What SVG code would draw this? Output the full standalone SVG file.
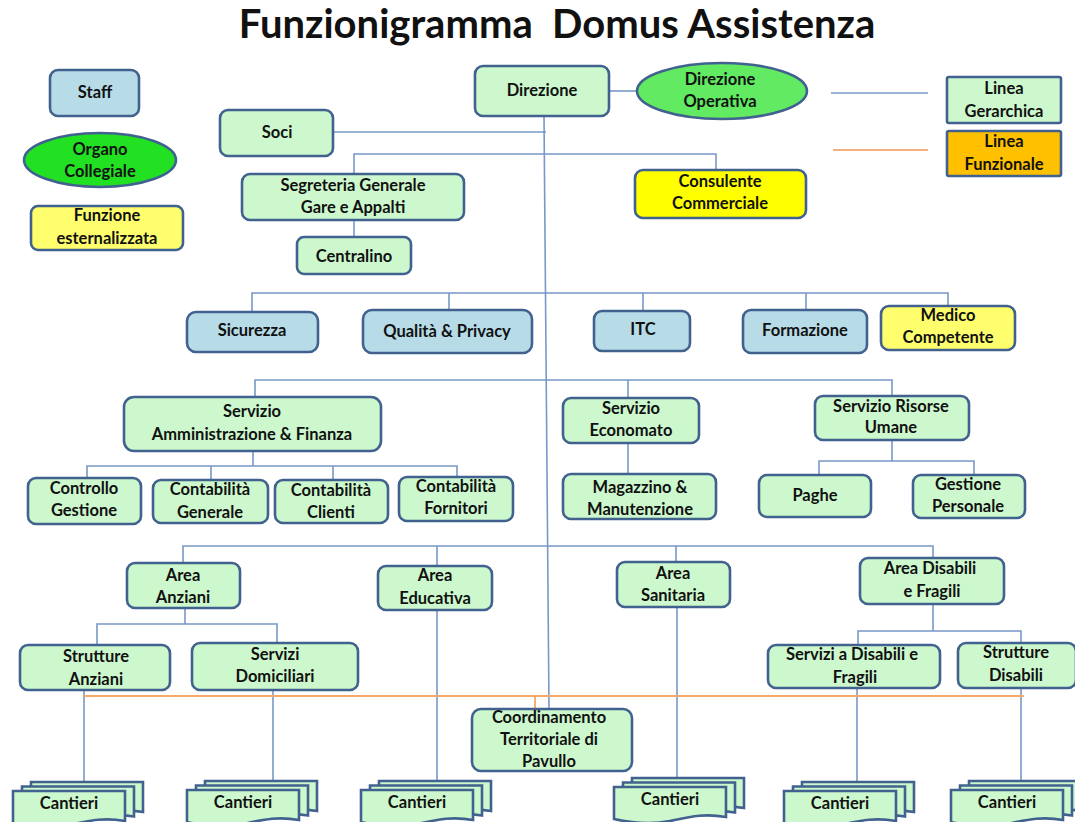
<svg xmlns="http://www.w3.org/2000/svg" width="1075" height="822" viewBox="0 0 1075 822">
<defs>
<style>
text{font-family:Lato,"Liberation Sans",sans-serif;font-weight:bold;font-size:16.5px;fill:#111;text-anchor:middle}
.t{font-size:40px}
.n{fill:#cdf8cd;stroke:#41628f;stroke-width:2.6}
.s{fill:#b7dce8;stroke:#41628f;stroke-width:2.6}
.y{fill:#ffff6e;stroke:#41628f;stroke-width:2.6}
.yy{fill:#ffff00;stroke:#41628f;stroke-width:2.6}
.o{fill:#ffc000;stroke:#41628f;stroke-width:2.6}
.c{fill:none;stroke:#7898c8;stroke-width:1.6}
.f{fill:none;stroke:#f5a868;stroke-width:1.8}
</style>
<path id="doc" d="M0,0 H112 V30 C90,26 75,30 56,34 C37,38 18,36 0,32 Z"/>
<g id="cant">
<use href="#doc" x="18" y="-9" class="n"/>
<use href="#doc" x="9" y="-4.5" class="n"/>
<use href="#doc" class="n"/>
</g>
</defs>
<rect width="1075" height="822" fill="#fff"/>
<text class="t" x="557" y="38" xml:space="preserve">Funzionigramma  Domus Assistenza</text>

<g id="connectors">
<path class="c" d="M544,116 L549,709"/>
<path class="c" d="M609,91 H637"/>
<path class="c" d="M333,132 H546"/>
<path class="c" d="M354,174 V154 H716 V170"/>
<path class="c" d="M354,220 V237"/>
<path class="c" d="M252,312 V293 H948 V306 M449,293 V310 M643,293 V311 M806,293 V310"/>
<path class="c" d="M255,397 V380 H892 V396 M628,380 V398"/>
<path class="c" d="M628,443 V474"/>
<path class="c" d="M892,440 V461 M819,475 V461 H974 V475"/>
<path class="c" d="M253,451 V466 M87,478 V466 H457 V477 M211,466 V480 M333,466 V480"/>
<path class="c" d="M183,563 V546 H933 V558 M437,546 V566 M676,546 V562"/>
<path class="c" d="M185,608 V624 M97,645 V624 H277 V643"/>
<path class="c" d="M933,604 V631 M858,645 V631 H1021 V643"/>
<path class="c" d="M84,690 V782 M273,690 V780 M437,610 V780 M677,607 V778 M857,688 V782 M1021,688 V780"/>
<path class="f" d="M84,696 H1024 M535,696 V709"/>
</g>

<g id="staff"><rect class="s" x="50" y="70" width="89" height="46" rx="8"/><text x="95" y="98">Staff</text></g>
<g id="organo"><ellipse cx="100" cy="160" rx="76" ry="27" fill="#22e022" stroke="#41628f" stroke-width="2.6"/><text x="100" y="155">Organo</text><text x="100" y="177">Collegiale</text></g>
<g id="funzione"><rect class="y" x="31" y="206" width="152" height="44" rx="7"/><text x="107" y="221">Funzione</text><text x="107" y="244">esternalizzata</text></g>
<g id="soci"><rect class="n" x="220" y="110" width="113" height="46" rx="8"/><text x="277" y="138">Soci</text></g>
<g id="direzione"><rect class="n" x="475" y="66" width="134" height="50" rx="8"/><text x="542" y="96">Direzione</text></g>
<g id="dirop"><ellipse cx="722" cy="91" rx="85" ry="28" fill="#62ea62" stroke="#41628f" stroke-width="2.6"/><text x="720" y="85">Direzione</text><text x="720" y="107">Operativa</text></g>
<g id="legend">
<path d="M831,93 H928" stroke="#9bb4d6" stroke-width="2"/>
<path d="M833,150 H928" stroke="#f5b07c" stroke-width="2"/>
</g>
<g id="lineagerarchica"><rect class="n" x="947" y="77" width="114" height="46" rx="2"/><text x="1004" y="94">Linea</text><text x="1004" y="117">Gerarchica</text></g>
<g id="lineafunzionale"><rect class="o" x="947" y="131" width="114" height="45" rx="2"/><text x="1004" y="147">Linea</text><text x="1004" y="170">Funzionale</text></g>
<g id="segreteria"><rect class="n" x="242" y="174" width="222" height="46" rx="8"/><text x="353" y="191">Segreteria Generale</text><text x="353" y="213">Gare e Appalti</text></g>
<g id="consulente"><rect class="yy" x="635" y="170" width="171" height="48" rx="8"/><text x="720" y="187">Consulente</text><text x="720" y="209">Commerciale</text></g>
<g id="centralino"><rect class="n" x="297" y="237" width="114" height="37" rx="7"/><text x="354" y="262">Centralino</text></g>

<g id="sicurezza"><rect class="s" x="187" y="312" width="131" height="40" rx="9"/><text x="252" y="336">Sicurezza</text></g>
<g id="qualita"><rect class="s" x="363" y="310" width="169" height="43" rx="9"/><text x="447" y="337">Qualità &amp; Privacy</text></g>
<g id="itc"><rect class="s" x="594" y="311" width="96" height="40" rx="8"/><text x="643" y="335">ITC</text></g>
<g id="formazione"><rect class="s" x="743" y="310" width="124" height="43" rx="8"/><text x="805" y="336">Formazione</text></g>
<g id="medico"><rect class="y" x="881" y="306" width="134" height="44" rx="8"/><text x="948" y="321">Medico</text><text x="948" y="343">Competente</text></g>

<g id="amministrazione"><rect class="n" x="124" y="397" width="257" height="54" rx="10"/><text x="252" y="417">Servizio</text><text x="252" y="440">Amministrazione &amp; Finanza</text></g>
<g id="economato"><rect class="n" x="563" y="398" width="136" height="45" rx="8"/><text x="631" y="414">Servizio</text><text x="631" y="436">Economato</text></g>
<g id="risorse"><rect class="n" x="815" y="396" width="154" height="44" rx="8"/><text x="891" y="412">Servizio Risorse</text><text x="891" y="433">Umane</text></g>
<g id="controllo"><rect class="n" x="28" y="478" width="113" height="46" rx="8"/><text x="84" y="494">Controllo</text><text x="84" y="516">Gestione</text></g>
<g id="contgen"><rect class="n" x="153" y="480" width="115" height="43" rx="8"/><text x="210" y="495">Contabilità</text><text x="210" y="518">Generale</text></g>
<g id="contcli"><rect class="n" x="275" y="480" width="113" height="43" rx="8"/><text x="331" y="496">Contabilità</text><text x="331" y="518">Clienti</text></g>
<g id="contforn"><rect class="n" x="399" y="477" width="114" height="44" rx="8"/><text x="456" y="492">Contabilità</text><text x="456" y="514">Fornitori</text></g>
<g id="magazzino"><rect class="n" x="563" y="474" width="153" height="45" rx="8"/><text x="640" y="493">Magazzino &amp;</text><text x="640" y="515">Manutenzione</text></g>
<g id="paghe"><rect class="n" x="759" y="475" width="112" height="42" rx="8"/><text x="815" y="501">Paghe</text></g>
<g id="gestpers"><rect class="n" x="913" y="475" width="112" height="43" rx="8"/><text x="968" y="490">Gestione</text><text x="968" y="512">Personale</text></g>

<g id="anziani"><rect class="n" x="127" y="563" width="113" height="45" rx="8"/><text x="183" y="581">Area</text><text x="183" y="603">Anziani</text></g>
<g id="educativa"><rect class="n" x="378" y="566" width="114" height="44" rx="8"/><text x="435" y="581">Area</text><text x="435" y="604">Educativa</text></g>
<g id="sanitaria"><rect class="n" x="617" y="562" width="113" height="45" rx="8"/><text x="673" y="579">Area</text><text x="673" y="601">Sanitaria</text></g>
<g id="disabili"><rect class="n" x="860" y="558" width="144" height="46" rx="8"/><text x="930" y="574">Area Disabili</text><text x="932" y="597">e Fragili</text></g>
<g id="strutanz"><rect class="n" x="20" y="645" width="150" height="45" rx="8"/><text x="96" y="662">Strutture</text><text x="96" y="685">Anziani</text></g>
<g id="servdom"><rect class="n" x="192" y="643" width="166" height="47" rx="8"/><text x="275" y="660">Servizi</text><text x="275" y="682">Domiciliari</text></g>
<g id="servdis"><rect class="n" x="768" y="645" width="172" height="43" rx="8"/><text x="852" y="660">Servizi a Disabili e</text><text x="855" y="683">Fragili</text></g>
<g id="strutdis"><rect class="n" x="958" y="643" width="118" height="45" rx="8"/><text x="1016" y="658">Strutture</text><text x="1016" y="681">Disabili</text></g>
<g id="coordinamento"><rect class="n" x="472" y="709" width="160" height="62" rx="9"/><text x="549" y="723">Coordinamento</text><text x="549" y="745">Territoriale di</text><text x="549" y="767">Pavullo</text></g>

<g id="cantieri1"><use href="#cant" x="13" y="791"/><text x="69" y="809">Cantieri</text></g>
<g id="cantieri2"><use href="#cant" x="187" y="790"/><text x="243" y="808">Cantieri</text></g>
<g id="cantieri3"><use href="#cant" x="361" y="790"/><text x="417" y="808">Cantieri</text></g>
<g id="cantieri4"><use href="#cant" x="614" y="787"/><text x="670" y="805">Cantieri</text></g>
<g id="cantieri5"><use href="#cant" x="784" y="791"/><text x="840" y="809">Cantieri</text></g>
<g id="cantieri6"><use href="#cant" x="951" y="790"/><text x="1007" y="808">Cantieri</text></g>
</svg>
